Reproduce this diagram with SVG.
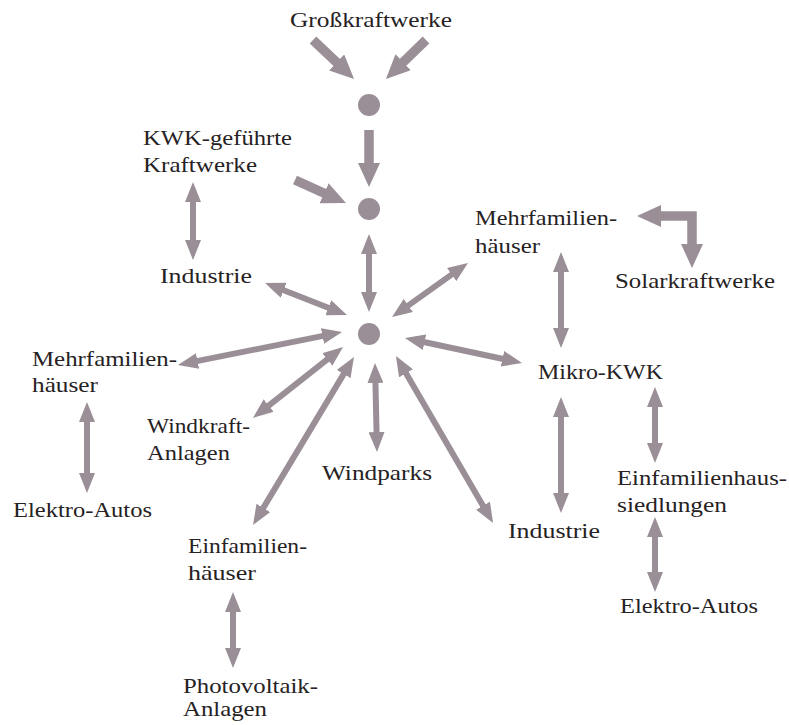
<svg xmlns="http://www.w3.org/2000/svg" width="789" height="725" viewBox="0 0 789 725">
<style>
text{font-family:"Liberation Serif","Times New Roman",serif;font-size:21px;fill:#262223}
.a{stroke:#9b8f97;stroke-width:6;fill:none;marker-start:url(#h);marker-end:url(#h)}
.t{stroke:#9b8f97;stroke-width:9.5;fill:none;marker-end:url(#H)}
.dot{fill:#9b8f97}
</style>
<defs>
<marker id="h" viewBox="0 0 20 16" refX="2" refY="8" markerWidth="20" markerHeight="16" orient="auto-start-reverse" markerUnits="userSpaceOnUse"><path d="M0,0 L20,8 L0,16 z" fill="#9b8f97"/></marker>
<marker id="H" viewBox="0 0 24 22" refX="2" refY="11" markerWidth="24" markerHeight="22" orient="auto-start-reverse" markerUnits="userSpaceOnUse"><path d="M0,0 L24,11 L0,22 z" fill="#9b8f97"/></marker>
</defs>
<rect width="789" height="725" fill="#ffffff"/>
<g id="connectors">
<line class="t" x1="313" y1="40" x2="338.1" y2="63.8"/>
<line class="t" x1="426" y1="40" x2="401.7" y2="63.6"/>
<line class="t" x1="369" y1="130" x2="369" y2="165"/>
<line class="t" x1="295" y1="180" x2="325.9" y2="194"/>
<path class="t" d="M659,216 L692,216 L692,246" style="marker-start:url(#H);stroke-linejoin:miter"/>
<line class="a" x1="369" y1="252" x2="369" y2="294"/>
<line class="a" x1="193" y1="200" x2="193" y2="242"/>
<line class="a" x1="87" y1="420" x2="87" y2="475"/>
<line class="a" x1="233" y1="610" x2="233" y2="650"/>
<line class="a" x1="561" y1="270" x2="561" y2="330"/>
<line class="a" x1="561" y1="415" x2="561" y2="495"/>
<line class="a" x1="655" y1="405" x2="655" y2="445"/>
<line class="a" x1="655" y1="535" x2="655" y2="574"/>
<line class="a" x1="330.2" y1="308.5" x2="281.8" y2="289.5"/>
<line class="a" x1="406.7" y1="306.6" x2="453.3" y2="273.4"/>
<line class="a" x1="324.4" y1="335.6" x2="195.6" y2="361.4"/>
<line class="a" x1="328.9" y1="358.2" x2="267.1" y2="406.8"/>
<line class="a" x1="344.7" y1="372.4" x2="262.3" y2="509.6"/>
<line class="a" x1="375.4" y1="381" x2="376.6" y2="434"/>
<line class="a" x1="405" y1="371.6" x2="484" y2="507.4"/>
<line class="a" x1="422.6" y1="341.8" x2="504.4" y2="359.2"/>
</g>
<g id="hub1"><circle class="dot" cx="369" cy="105" r="11"/></g>
<g id="hub2"><circle class="dot" cx="369" cy="209" r="11"/></g>
<g id="hub3"><circle class="dot" cx="369" cy="334" r="11"/></g>
<g id="grosskraftwerke"><text x="290" y="27" textLength="162" lengthAdjust="spacingAndGlyphs">Großkraftwerke</text></g>
<g id="kwk-kraftwerke"><text x="143" y="145" textLength="149" lengthAdjust="spacingAndGlyphs">KWK-geführte</text><text x="143" y="172" textLength="114" lengthAdjust="spacingAndGlyphs">Kraftwerke</text></g>
<g id="industrie-links"><text x="160" y="283" textLength="92" lengthAdjust="spacingAndGlyphs">Industrie</text></g>
<g id="mehrfamilien-rechts"><text x="475" y="225" textLength="142" lengthAdjust="spacingAndGlyphs">Mehrfamilien-</text><text x="475" y="253" textLength="65" lengthAdjust="spacingAndGlyphs">häuser</text></g>
<g id="solarkraftwerke"><text x="615" y="288" textLength="160" lengthAdjust="spacingAndGlyphs">Solarkraftwerke</text></g>
<g id="mikro-kwk"><text x="538" y="379" textLength="125" lengthAdjust="spacingAndGlyphs">Mikro-KWK</text></g>
<g id="mehrfamilien-links"><text x="32" y="366" textLength="145" lengthAdjust="spacingAndGlyphs">Mehrfamilien-</text><text x="32" y="392" textLength="66" lengthAdjust="spacingAndGlyphs">häuser</text></g>
<g id="windkraft-anlagen"><text x="147" y="433" textLength="103" lengthAdjust="spacingAndGlyphs">Windkraft-</text><text x="147" y="460" textLength="83" lengthAdjust="spacingAndGlyphs">Anlagen</text></g>
<g id="elektro-autos-links"><text x="13" y="517" textLength="139" lengthAdjust="spacingAndGlyphs">Elektro-Autos</text></g>
<g id="windparks"><text x="322" y="480" textLength="110" lengthAdjust="spacingAndGlyphs">Windparks</text></g>
<g id="industrie-rechts"><text x="508" y="538" textLength="92" lengthAdjust="spacingAndGlyphs">Industrie</text></g>
<g id="einfamilienhaussiedlungen"><text x="617" y="485" textLength="170" lengthAdjust="spacingAndGlyphs">Einfamilienhaus-</text><text x="617" y="512" textLength="110" lengthAdjust="spacingAndGlyphs">siedlungen</text></g>
<g id="elektro-autos-rechts"><text x="620" y="613" textLength="138" lengthAdjust="spacingAndGlyphs">Elektro-Autos</text></g>
<g id="einfamilienhaeuser"><text x="188" y="553" textLength="119" lengthAdjust="spacingAndGlyphs">Einfamilien-</text><text x="188" y="580" textLength="68" lengthAdjust="spacingAndGlyphs">häuser</text></g>
<g id="photovoltaik-anlagen"><text x="183" y="693" textLength="135" lengthAdjust="spacingAndGlyphs">Photovoltaik-</text><text x="183" y="716" textLength="84" lengthAdjust="spacingAndGlyphs">Anlagen</text></g>
</svg>
